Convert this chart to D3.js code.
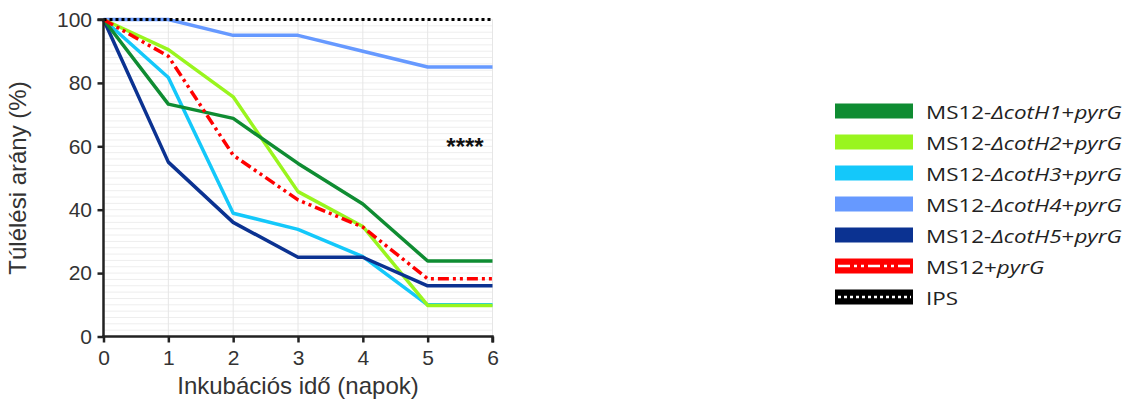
<!DOCTYPE html>
<html>
<head>
<meta charset="utf-8">
<script src="https://cdn.jsdelivr.net/npm/d3@7"></script>
<style>
  html, body { margin: 0; padding: 0; background: #fff; }
  svg { display: block; }
</style>
</head>
<body>
<svg id="chart" width="1132" height="403"></svg>
<script>
// Survival over incubation time (days)
const days = [0, 1, 2, 3, 4, 5, 6];
const cotH1 = [100, 73.3, 68.8, 54.6, 41.8, 23.8, 23.8];
const cotH2 = [100, 90.5, 75.6, 45.7, 34.7, 9.8, 9.8];
const cotH3 = [100, 81.7, 38.9, 33.8, 25.2, 10, 10];
const cotH4 = [100, 100, 95, 95, 90, 85, 85];
const cotH5 = [100, 55, 36, 25, 25, 16, 16];
const ms12 = [100, 88.4, 57.2, 43.1, 34.5, 18.2, 18.2];
const ips = [100, 100, 100, 100, 100, 100, 100];

const yTicks = [0, 20, 40, 60, 80, 100];
const xTicks = [0, 1, 2, 3, 4, 5, 6];
const significance = "****";

const series = [
  { key: "H4", values: cotH4, color: "#6699ff", dash: null },
  { key: "H3", values: cotH3, color: "#14c8fa", dash: null },
  { key: "H2", values: cotH2, color: "#99f51e", dash: null },
  { key: "H5", values: cotH5, color: "#0b3291", dash: null },
  { key: "H1", values: cotH1, color: "#0f8c32", dash: null },
  { key: "MS12", values: ms12, color: "#ff0000", dash: "11,4,3,4,3,4" },
  { key: "IPS", values: ips, color: "#000000", dash: "3,3" }
];

const legendItems = [
  { parts: [["MS12-", false], ["ΔcotH1", true], ["+", false], ["pyrG", true]], color: "#0f8c32", type: "solid" },
  { parts: [["MS12-", false], ["ΔcotH2", true], ["+", false], ["pyrG", true]], color: "#99f51e", type: "solid" },
  { parts: [["MS12-", false], ["ΔcotH3", true], ["+", false], ["pyrG", true]], color: "#14c8fa", type: "solid" },
  { parts: [["MS12-", false], ["ΔcotH4", true], ["+", false], ["pyrG", true]], color: "#6699ff", type: "solid" },
  { parts: [["MS12-", false], ["ΔcotH5", true], ["+", false], ["pyrG", true]], color: "#0b3291", type: "solid" },
  { parts: [["MS12+", false], ["pyrG", true]], color: "#ff0000", type: "dashdot" },
  { parts: [["IPS", false]], color: "#000000", type: "dotted" }
];

const svg = d3.select("#chart");
const x = d3.scaleLinear().domain([0, 6]).range([103.5, 492.5]);
const y = d3.scaleLinear().domain([0, 100]).range([336.5, 19.5]);

// faint grid
const grid = svg.append("g");
grid.selectAll("line.h").data(d3.range(2, 101, 2)).join("line")
  .attr("x1", x(0)).attr("x2", x(6))
  .attr("y1", d => y(d)).attr("y2", d => y(d))
  .attr("stroke", "#eeeeee").attr("stroke-width", 1);
grid.selectAll("line.v").data(xTicks.slice(1)).join("line")
  .attr("x1", d => x(d)).attr("x2", d => x(d))
  .attr("y1", y(0)).attr("y2", y(100))
  .attr("stroke", "#e6e6e6").attr("stroke-width", 1);

// data lines
const line = d3.line().x((d, i) => x(days[i])).y(d => y(d));
svg.append("g").selectAll("path").data(series).join("path")
  .attr("d", d => line(d.values))
  .attr("fill", "none")
  .attr("stroke", d => d.color)
  .attr("stroke-width", d => d.key === "IPS" ? 3 : 3.5)
  .attr("stroke-dasharray", d => d.dash)
  .attr("stroke-linejoin", "round");

// axes
const axisFont = "Liberation Sans, Arial, sans-serif";
const yAxis = svg.append("g").attr("transform", `translate(${x(0)},0)`)
  .call(d3.axisLeft(y).tickValues(yTicks).tickFormat(d3.format("d")).tickSize(6).tickPadding(5.5));
const xAxis = svg.append("g").attr("transform", `translate(0,${y(0)})`)
  .call(d3.axisBottom(x).tickValues(xTicks).tickFormat(d3.format("d")).tickSize(6).tickPadding(8));
[yAxis, xAxis].forEach(g => {
  g.attr("font-size", 21).attr("font-family", axisFont);
  g.select(".domain").attr("stroke", "#222").attr("stroke-width", 2.5);
  g.selectAll(".tick line").attr("stroke", "#222").attr("stroke-width", 2.5);
  g.selectAll(".tick text").attr("fill", "#333");
});
yAxis.select(".domain").attr("d", `M-6,${y(100)}H0V${y(0) + 1.2}`);
xAxis.select(".domain").attr("d", `M${x(0) - 1.2},0H${x(6)}V6`);

// axis titles
svg.append("text")
  .attr("transform", `translate(26,${(y(0) + y(100)) / 2}) rotate(-90)`)
  .attr("text-anchor", "middle")
  .attr("font-family", axisFont)
  .attr("font-size", 24).attr("fill", "#333")
  .text("Túlélési arány (%)");
svg.append("text")
  .attr("x", (x(0) + x(6)) / 2).attr("y", 394)
  .attr("text-anchor", "middle")
  .attr("font-family", axisFont)
  .attr("font-size", 24).attr("fill", "#333")
  .text("Inkubációs idő (napok)");

// significance marker
svg.append("text")
  .attr("x", 465).attr("y", 155)
  .attr("text-anchor", "middle")
  .attr("font-family", axisFont)
  .attr("font-weight", "bold")
  .attr("font-size", 24).attr("fill", "#111")
  .text(significance);

// legend
const legend = svg.append("g").attr("transform", "translate(835,111)");
const rows = legend.selectAll("g").data(legendItems).join("g")
  .attr("transform", (d, i) => `translate(0,${i * 31})`);
rows.append("rect")
  .attr("x", 0).attr("y", -7.5).attr("width", 78).attr("height", 15)
  .attr("fill", d => d.color);
rows.filter(d => d.type !== "solid").append("line")
  .attr("x1", 3).attr("x2", 76).attr("y1", 0).attr("y2", 0)
  .attr("stroke", "#fff").attr("stroke-width", 2.5)
  .attr("stroke-dasharray", d => d.type === "dashdot" ? "12,4,3,4,3,4" : "3,3");
const labels = rows.append("text")
  .attr("transform", "translate(91,8) scale(1.18,1)")
  .attr("font-family", "Open Sans, sans-serif")
  .attr("font-size", 19).attr("fill", "#222");
labels.selectAll("tspan").data(d => d.parts).join("tspan")
  .attr("font-style", d => d[1] ? "italic" : "normal")
  .text(d => d[0]);
</script>
</body>
</html>
